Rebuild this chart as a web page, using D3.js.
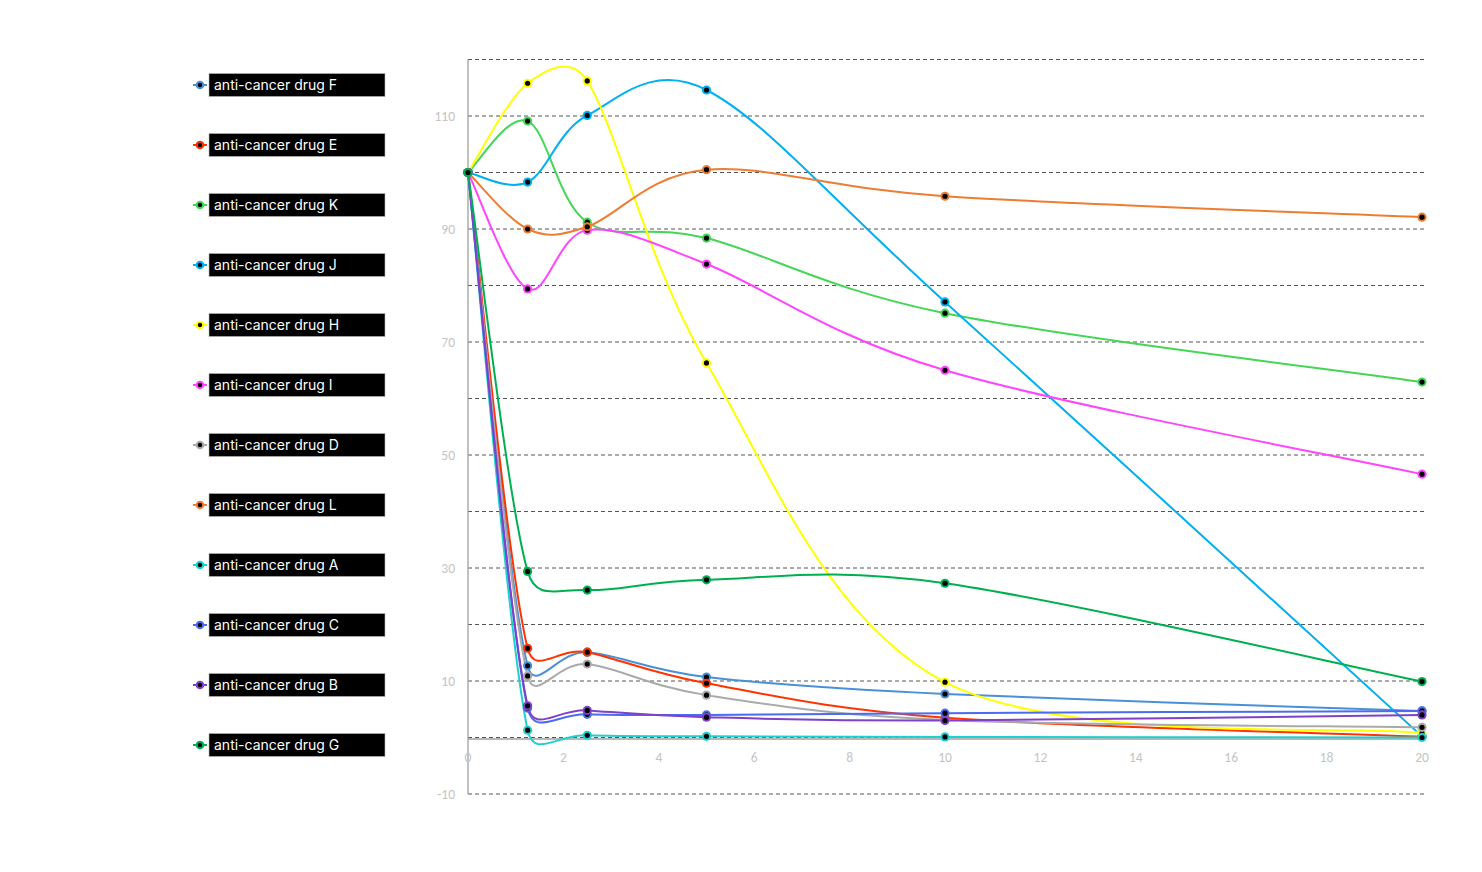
<!DOCTYPE html>
<html>
<head>
<meta charset="utf-8">
<script src="https://cdn.jsdelivr.net/npm/d3@7"></script>
<style>
  html, body { margin: 0; padding: 0; background: #fff; }
  svg { display: block; }
</style>
</head>
<body>
<svg id="chart" width="1482" height="872"></svg>
<script>
const xValues = [0, 1.25, 2.5, 5, 10, 20];
const drugNames = ["anti-cancer drug F", "anti-cancer drug E", "anti-cancer drug K", "anti-cancer drug J",
  "anti-cancer drug H", "anti-cancer drug I", "anti-cancer drug D", "anti-cancer drug L",
  "anti-cancer drug A", "anti-cancer drug C", "anti-cancer drug B", "anti-cancer drug G"];
const drugF = [100, 12.7, 15.1, 10.7, 7.7, 4.7];
const drugE = [100, 15.8, 15.1, 9.6, 3.5, 0.15];
const drugK = [100, 109.1, 91.2, 88.4, 75.1, 62.9];
const drugJ = [100, 98.3, 110.1, 114.6, 77.1, 0.2];
const drugH = [100, 115.8, 116.2, 66.3, 9.8, 0.8];
const drugI = [100, 79.4, 89.8, 83.8, 65.0, 46.6];
const drugD = [100, 10.9, 13.0, 7.5, 3.1, 1.8];
const drugL = [100, 90.0, 90.4, 100.5, 95.8, 92.1];
const drugA = [100, 1.3, 0.4, 0.2, 0.1, 0.0];
const drugC = [100, 5.2, 4.1, 4.0, 4.3, 4.7];
const drugB = [100, 5.6, 4.8, 3.6, 3.0, 4.0];
const drugG = [100, 29.4, 26.1, 27.9, 27.3, 9.9];
const seriesValues = [drugF, drugE, drugK, drugJ, drugH, drugI, drugD, drugL, drugA, drugC, drugB, drugG];
const colors = ["#4a90d9", "#ff3300", "#44d655", "#00b0f0", "#ffff00", "#ff44ff", "#aaaaaa", "#ed7d31",
  "#1fd0d0", "#4a6cf0", "#8040c8", "#00b050"];
const xTicks = [0, 2, 4, 6, 8, 10, 12, 14, 16, 18, 20];
const yTickLabels = [-10, 10, 30, 50, 70, 90, 110];
const yGrid = [-10, 0, 10, 20, 30, 40, 50, 60, 70, 80, 90, 100, 110, 120];

// Spreadsheet-style smoothed curve (Bezier with clamped 1/6 tangents)
function SmoothCurve(context) { this._context = context; }
SmoothCurve.prototype = {
  areaStart() { this._line = 0; },
  areaEnd() { this._line = NaN; },
  lineStart() { this._pts = []; },
  point(px, py) { this._pts.push([+px, +py]); },
  lineEnd() {
    const p = this._pts, n = p.length, c = this._context;
    if (!n) return;
    const dist = (a, b) => Math.hypot(a[0] - b[0], a[1] - b[1]);
    c.moveTo(p[0][0], p[0][1]);
    for (let i = 0; i < n - 1; i++) {
      const P0 = p[Math.max(i - 1, 0)], P1 = p[i], P2 = p[i + 1], P3 = p[Math.min(i + 2, n - 1)];
      const d12 = dist(P1, P2), d02 = dist(P0, P2), d13 = dist(P1, P3);
      const f0 = d02 > 0 ? Math.min(1 / 6, d12 / (2 * d02)) : 0;
      const f1 = d13 > 0 ? Math.min(1 / 6, d12 / (2 * d13)) : 0;
      c.bezierCurveTo(
        P1[0] + f0 * (P2[0] - P0[0]), P1[1] + f0 * (P2[1] - P0[1]),
        P2[0] - f1 * (P3[0] - P1[0]), P2[1] - f1 * (P3[1] - P1[1]),
        P2[0], P2[1]);
    }
  }
};
const smoothCurve = ctx => new SmoothCurve(ctx);

const svg = d3.select("#chart");
const x = d3.scaleLinear().domain([0, 20]).range([468, 1422]);
const y = d3.scaleLinear().domain([-10, 120]).range([794, 59.5]);

// gridlines
svg.append("g").selectAll("line").data(yGrid).join("line")
  .attr("x1", x(0)).attr("x2", x(20) + 3)
  .attr("y1", d => y(d)).attr("y2", d => y(d))
  .attr("stroke", "#555").attr("stroke-width", 1).attr("stroke-dasharray", "4,3");

// y axis line
svg.append("line").attr("x1", x(0)).attr("x2", x(0)).attr("y1", y(120)).attr("y2", y(-10))
  .attr("stroke", "#a0a0a0").attr("stroke-width", 1.3);
// x axis line at 0
svg.append("line").attr("x1", x(0)).attr("x2", x(20) + 3).attr("y1", y(0) + 1.5).attr("y2", y(0) + 1.5)
  .attr("stroke", "#a0a0a0").attr("stroke-width", 1.3);

// y labels
svg.append("g").selectAll("text").data(yTickLabels).join("text")
  .attr("x", 455).attr("y", d => y(d)).attr("dy", "0.35em")
  .attr("text-anchor", "end").attr("font-family", "Calibri, Carlito, 'Open Sans', sans-serif")
  .attr("font-size", 13.5).attr("fill", "#c4c4c4").text(d => d);

// x labels
svg.append("g").selectAll("text").data(xTicks).join("text")
  .attr("x", d => x(d)).attr("y", y(0) + 20).attr("dy", "0.35em")
  .attr("text-anchor", "middle").attr("font-family", "Calibri, Carlito, 'Open Sans', sans-serif")
  .attr("font-size", 13.5).attr("fill", "#c4c4c4").text(d => d);

const line = d3.line().x(d => x(d[0])).y(d => y(d[1])).curve(smoothCurve);

const series = seriesValues.map((vals, i) => ({
  name: drugNames[i], color: colors[i], pts: vals.map((v, j) => [xValues[j], v])
}));

series.forEach(s => {
  svg.append("path").attr("d", line(s.pts)).attr("fill", "none")
    .attr("stroke", s.color).attr("stroke-width", 2);
});
series.forEach(s => {
  const g = svg.append("g");
  g.selectAll("circle.o").data(s.pts).join("circle").attr("class", "o")
    .attr("cx", d => x(d[0])).attr("cy", d => y(d[1])).attr("r", 4.6).attr("fill", s.color);
  g.selectAll("circle.i").data(s.pts).join("circle").attr("class", "i")
    .attr("cx", d => x(d[0])).attr("cy", d => y(d[1])).attr("r", 2.6).attr("fill", "#000");
});

// legend
const legend = svg.append("g");
series.forEach((s, i) => {
  const cy = 85 + i * 60;
  const g = legend.append("g");
  g.append("line").attr("x1", 193).attr("x2", 207).attr("y1", cy).attr("y2", cy)
    .attr("stroke", s.color).attr("stroke-width", 2);
  g.append("circle").attr("cx", 200).attr("cy", cy).attr("r", 4.3).attr("fill", s.color);
  g.append("circle").attr("cx", 200).attr("cy", cy).attr("r", 2.2).attr("fill", "#000");
  g.append("rect").attr("x", 209).attr("y", cy - 11.5).attr("width", 176).attr("height", 23)
    .attr("fill", "#000").attr("stroke", "#bbb").attr("stroke-width", 0.6);
  g.append("text").attr("x", 214).attr("y", cy).attr("dy", "0.36em")
    .attr("font-family", "Inter, 'Noto Sans', sans-serif").attr("font-size", 14)
    .attr("fill", "#fff").text(s.name);
});
</script>
</body>
</html>
